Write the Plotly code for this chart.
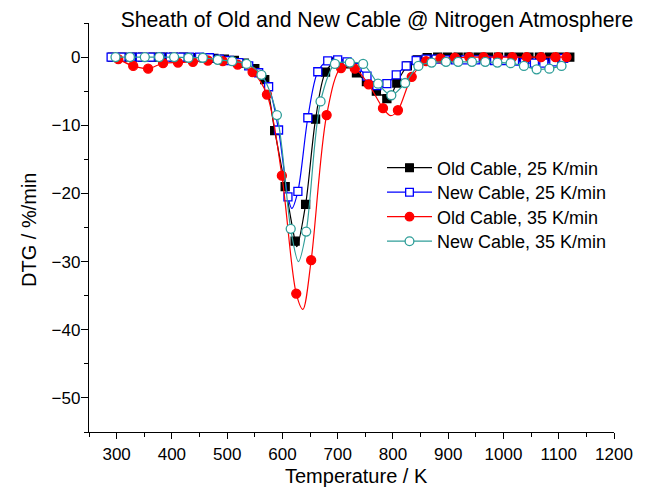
import plotly.graph_objects as go

# ---------------- data ----------------
old25_T = [292, 310, 329, 347, 366, 384, 403, 421, 439, 458, 476, 495, 513, 531, 550,
           568, 586, 605, 623, 642, 660, 678, 697, 715, 734, 752, 770, 789, 807, 826,
           844, 862, 881, 899, 918, 936, 954, 973, 991, 1010, 1028, 1046, 1065, 1083, 1102, 1120]
old25_y = [0, 0, 0, 0, 0, 0, 0, 0, -0.1, -0.1, -0.2, -0.3, -0.5, -0.9, -1.7,
           -3.3, -10.8, -19.0, -27.0, -21.6, -9.1, -2.2, -0.7, -1.0, -2.3, -3.6, -5.0, -6.1, -3.8, -1.3,
           -0.4, -0.1, 0, 0, 0, 0, 0, 0, 0, 0, 0, 0, 0, 0, 0, 0]
old25_curveT = [626, 792]
old25_curvey = [-27.8, -6.3]

new25_T = [290, 308, 326, 343, 361, 379, 397, 415, 432, 450, 468, 486, 504, 521, 539,
           557, 575, 593, 610, 628, 646, 664, 682, 700, 717, 735, 753, 771, 789, 806,
           824, 842, 860, 878, 895, 913, 931, 949, 967, 984, 1002, 1020, 1038, 1056, 1073, 1091, 1109]
new25_y = [0, 0, 0, 0, 0, 0, 0, 0, 0, 0, -0.1, -0.3, -0.5, -0.8, -1.3,
           -2.3, -4.35, -10.7, -20.5, -19.7, -8.9, -2.15, -0.55, -0.4, -0.7, -1.5, -2.8, -4.2, -3.9, -2.6,
           -1.3, -0.5, -0.3, -0.3, -0.4, -0.4, -0.4, -0.4, -0.4, -0.5, -0.5, -0.6, -0.8, -0.9, -0.9, -0.7, -0.2]
new25_curveT = [617, 778]
new25_curvey = [-22.2, -4.4]

old35_T = [303, 330, 357, 384, 411, 438, 465, 492, 519, 546, 572, 599, 625, 652, 680, 706,
           731, 756, 782, 809, 834, 860, 886, 912, 938, 964, 990, 1016, 1042, 1068, 1094, 1114]
old35_y = [-0.3, -1.3, -1.7, -0.9, -0.8, -0.7, -0.5, -0.6, -1.1, -2.2, -5.5, -17.4, -34.7, -29.8, -8.5, -1.6,
           -1.7, -4.0, -7.5, -7.8, -2.9, -0.6, -0.2, -0.1, 0, 0, 0, 0, 0, 0, 0, 0]
old35_curveT = [637, 796]
old35_curvey = [-37.0, -8.6]

new35_T = [298, 324, 351, 377, 404, 430, 456, 483, 509, 535, 562, 590, 615, 643, 669, 695, 722,
           746, 773, 797, 822, 846, 870, 896, 918, 943, 967, 989, 1013, 1037, 1060, 1083, 1105]
new35_y = [0, 0, 0, 0, 0, -0.1, -0.1, -0.4, -0.6, -1.0, -2.6, -8.5, -25.2, -25.6, -6.5, -1.0, -0.8,
           -1.0, -3.9, -5.6, -3.8, -1.3, -0.8, -0.7, -0.7, -0.7, -0.7, -0.8, -0.9, -1.3, -1.8, -1.7, -1.3]
new35_curveT = [629]
new35_curvey = [-30.0]

series_names = ["Old Cable, 25 K/min", "New Cable, 25 K/min",
                "Old Cable, 35 K/min", "New Cable, 35 K/min"]

x_ticks = [300, 400, 500, 600, 700, 800, 900, 1000, 1100, 1200]
y_ticks = [0, -10, -20, -30, -40, -50]

FONT = "Arial, Liberation Sans, sans-serif"


def merge(T, y, cT, cy, msize):
    pts = [(t, v, msize) for t, v in zip(T, y)] + [(t, v, 0) for t, v in zip(cT, cy)]
    pts.sort(key=lambda p: p[0])
    return [p[0] for p in pts], [p[1] for p in pts], [p[2] for p in pts]


styles = [
    dict(color="#000000", symbol="square", fill="#000000", size=8),
    dict(color="#0000FF", symbol="square", fill="#FFFFFF", size=8),
    dict(color="#FF0000", symbol="circle", fill="#FF0000", size=9),
    dict(color="#2F9E99", symbol="circle", fill="#FFFFFF", size=9),
]
datasets = [
    (old25_T, old25_y, old25_curveT, old25_curvey),
    (new25_T, new25_y, new25_curveT, new25_curvey),
    (old35_T, old35_y, old35_curveT, old35_curvey),
    (new35_T, new35_y, new35_curveT, new35_curvey),
]
legend_ids = ["legend", "legend2", "legend3", "legend4"]
legend_centers_px = [168, 192.5, 217, 241.5]

fig = go.Figure()
for name, st, (T, y, cT, cy), lid in zip(series_names, styles, datasets, legend_ids):
    xs, ys, ss = merge(T, y, cT, cy, st["size"])
    fig.add_trace(go.Scatter(
        x=xs, y=ys, name=name, mode="lines+markers", legend=lid,
        line=dict(color=st["color"], width=1.2, shape="spline", smoothing=0.9),
        marker=dict(symbol=st["symbol"], size=ss, color=st["fill"], opacity=1,
                    line=dict(color=st["color"], width=1.3)),
    ))

axis_common = dict(
    showline=True, linecolor="black", linewidth=1.3, mirror=False,
    ticks="outside", tickcolor="black", tickwidth=1.2,
    showgrid=False, zeroline=False,
    tickfont=dict(family=FONT, size=17, color="black"),
)

fig.update_xaxes(range=[250, 1200], tickvals=x_ticks, ticklen=6,
                 minor=dict(dtick=50, tick0=0, ticks="outside", ticklen=4,
                            tickcolor="black", tickwidth=1.2),
                 **axis_common)
fig.update_yaxes(range=[-55, 5], tickvals=y_ticks, ticklen=7, ticklabelstandoff=-3,
                 minor=dict(dtick=5, tick0=0, ticks="outside", ticklen=4,
                            tickcolor="black", tickwidth=1.2),
                 **axis_common)

PLOT_TOP, PLOT_BOTTOM, PLOT_LEFT, PLOT_W = 23, 432, 89, 525
PLOT_H = PLOT_BOTTOM - PLOT_TOP

legend_style = dict(xanchor="left", yanchor="middle", bgcolor="rgba(0,0,0,0)",
                    borderwidth=0, itemwidth=45,
                    font=dict(family=FONT, size=18, color="black"))
legend_layout = {}
for lid, cy_px in zip(legend_ids, legend_centers_px):
    legend_layout[lid] = dict(x=(382 - PLOT_LEFT) / PLOT_W,
                              y=(PLOT_BOTTOM - cy_px) / PLOT_H, **legend_style)

fig.update_layout(
    width=670, height=488, autosize=False,
    margin=dict(l=PLOT_LEFT, r=670 - PLOT_LEFT - PLOT_W, t=PLOT_TOP, b=488 - PLOT_BOTTOM),
    paper_bgcolor="white", plot_bgcolor="white",
    font=dict(family=FONT, color="black"),
    title=dict(text="Sheath of Old and New Cable @ Nitrogen Atmosphere",
               x=377 / 670, xref="container", xanchor="center",
               y=1 - 20 / 488, yref="container", yanchor="middle",
               font=dict(family=FONT, size=21.2, color="black")),
    showlegend=True,
    annotations=[
        dict(text="Temperature / K", xref="paper", yref="paper",
             x=(356 - PLOT_LEFT) / PLOT_W, y=(PLOT_BOTTOM - 476) / PLOT_H,
             xanchor="center", yanchor="middle",
             showarrow=False, font=dict(family=FONT, size=20, color="black")),
        dict(text="DTG / %/min", xref="paper", yref="paper",
             x=(29 - PLOT_LEFT) / PLOT_W, y=(PLOT_BOTTOM - 230) / PLOT_H,
             xanchor="center", yanchor="middle",
             textangle=-90, showarrow=False, font=dict(family=FONT, size=20, color="black")),
    ],
    **legend_layout,
)

fig.write_html("out.html")
